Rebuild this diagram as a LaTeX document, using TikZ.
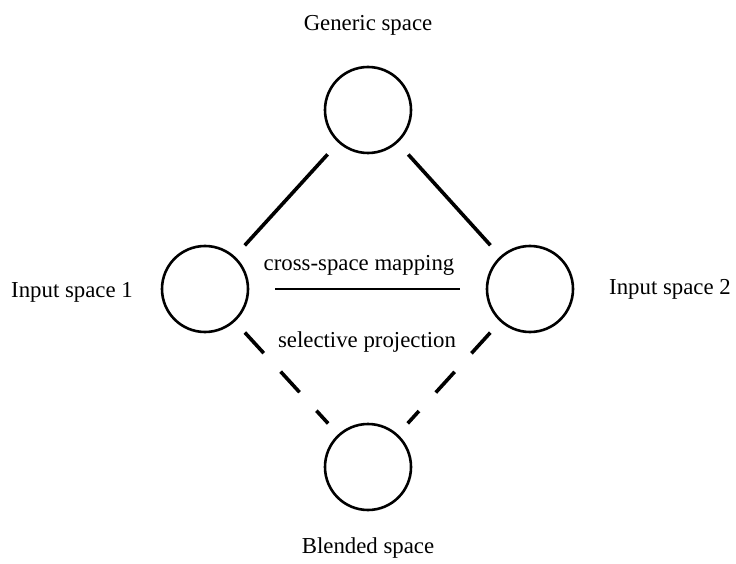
\documentclass[tikz,border=0pt]{standalone}
\usepackage{fontspec}
\setmainfont{Liberation Serif}
\usetikzlibrary{positioning}

\begin{document}
\begin{tikzpicture}[x=1pt,y=-1pt,
    space/.style={draw,circle,minimum size=86pt,inner sep=0pt,outer sep=0pt,line width=2.6pt},
    lbl/.style={font=\fontsize{22.8}{27}\selectfont,inner sep=0pt}]
    \useasboundingbox (0,0) rectangle (736,564);
    \node [space] (generic) at (368,110) {};
    \node [space] (input1) at (205,289) {};
    \node [space] (input2) at (530,289) {};
    \node [space] (blend) at (368,467) {};
    \draw [line width=3.6pt,shorten <=17pt,shorten >=16pt] (generic) -- (input1);
    \draw [line width=3.6pt,shorten <=17pt,shorten >=16pt] (generic) -- (input2);
    \draw [line width=2.8pt,shorten <=27pt,shorten >=27pt] (input1) -- (input2);
    \draw [line width=3.6pt,dash pattern=on 28pt off 25pt,shorten <=16pt,shorten >=16pt] (input1) -- (blend);
    \draw [line width=3.6pt,dash pattern=on 28pt off 25pt,shorten <=16pt,shorten >=16pt] (input2) -- (blend);
    \node [lbl] (genericlbl) at (368,25) {Generic space};
    \node [lbl] (input1lbl) at (72,292) {Input space 1};
    \node [lbl] (input2lbl) at (670,289) {Input space 2};
    \node [lbl] (blendlbl) at (368,548) {Blended space};
    \node [lbl] (mapping) at (359,265) {cross-space mapping};
    \node [lbl] (projection) at (367,342) {selective projection};
\end{tikzpicture}
\end{document}
